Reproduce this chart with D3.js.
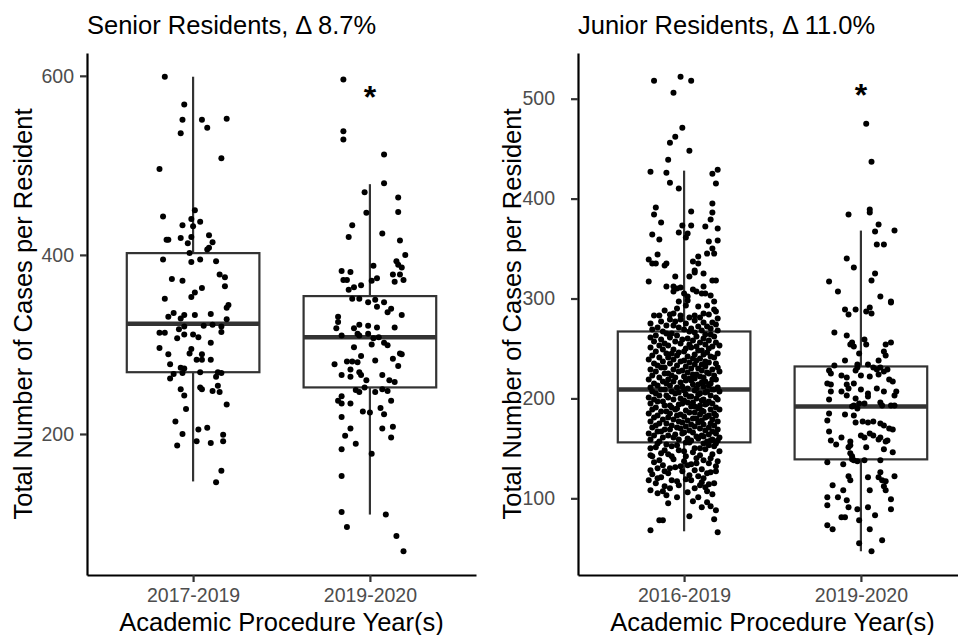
<!DOCTYPE html>
<html>
<head>
<meta charset="utf-8">
<script src="https://cdn.jsdelivr.net/npm/d3@7"></script>
<style>
    body { margin: 0; background: #fff; }
    svg text { font-family: "Liberation Sans", Arial, Helvetica, sans-serif; }
</style>
</head>
<body>
<svg id="chart" width="958" height="635"></svg>
<script>
(function () {
    'use strict';

    // ---- data -------------------------------------------------------------
    var seniorTitle = 'Senior Residents, \u0394 8.7%';
    var juniorTitle = 'Junior Residents, \u0394 11.0%';
    var yTitle = 'Total Number of Cases per Resident';
    var xTitle = 'Academic Procedure Year(s)';

    var seniorCats = ['2017-2019', '2019-2020'];
    var juniorCats = ['2016-2019', '2019-2020'];
    var seniorTicks = [200, 400, 600];
    var juniorTicks = [100, 200, 300, 400, 500];

    // [lower whisker, q1, median, q3, upper whisker]
    var seniorBoxes = [[147, 269, 323, 402, 599], [110, 252, 308, 354, 479]];
    var juniorBoxes = [[67, 156, 209, 267, 428], [47, 139, 192, 232, 368]];

    // significance mark over the 2019-2020 group
    var seniorStar = 582;
    var juniorStar = 509;

    // residents: [jitter in 1/100 of a category, cases]
    var senior1 = [[-16,599],[-5,568],[-6,551],[5,551],[19,552],[8,542],[-7,536],[16,508],[-19,496],[-17,443],[1,450],[-1,440],[4,437],[-6,433],[0,432],[-15,417],[-14,417],[-7,419],[-1,420],[9,422],[11,414],[-3,413],[9,408],[8,406],[-2,402],[-17,395],[-1,392],[4,395],[13,393],[15,378],[18,375],[-12,373],[-6,371],[5,363],[1,358],[-1,353],[18,365],[-16,351],[20,344],[19,341],[-11,335],[-14,331],[-5,333],[1,333],[10,334],[19,328],[-7,329],[-19,313],[-16,313],[-8,317],[-5,320],[6,321],[11,322],[16,320],[16,314],[-9,307],[-5,311],[0,311],[3,308],[10,302],[-19,296],[-1,295],[-2,290],[-14,289],[5,289],[2,283],[5,283],[10,283],[-13,278],[-7,274],[-5,273],[-11,267],[-6,268],[4,269],[14,269],[16,268],[-13,262],[13,264],[14,254],[4,252],[5,250],[-7,250],[11,248],[15,247],[-5,243],[19,233],[-4,228],[-10,214],[-6,200],[3,205],[8,207],[17,199],[17,192],[-9,187],[2,192],[10,190],[16,159],[13,146]];

    var senior2 = [[-15,596],[-15,538],[-15,529],[8,512],[8,480],[-3,470],[16,464],[-2,447],[16,448],[-10,433],[-12,420],[7,424],[17,416],[20,400],[15,393],[16,389],[18,386],[2,388],[-16,382],[-11,381],[-15,372],[-13,372],[1,371],[4,374],[13,378],[17,378],[14,370],[19,372],[-5,366],[-12,361],[-9,364],[-10,351],[-6,351],[-1,347],[3,350],[8,347],[4,342],[12,340],[10,336],[18,333],[-18,331],[-18,325],[-19,318],[-9,318],[-6,322],[-1,321],[4,319],[14,319],[-16,310],[-7,312],[-6,310],[-1,312],[2,307],[5,308],[1,300],[8,302],[10,299],[-9,297],[17,290],[18,289],[-20,278],[-13,281],[-10,281],[-7,280],[-5,287],[3,282],[13,284],[16,276],[-11,272],[-6,269],[-16,266],[-11,264],[-5,266],[-2,260],[7,266],[11,260],[14,258],[-8,249],[-6,247],[-3,252],[3,247],[7,250],[10,248],[-16,242],[-18,237],[-16,234],[-11,234],[12,237],[6,229],[-4,225],[0,224],[-16,219],[8,222],[-11,206],[7,206],[13,208],[-14,198],[12,196],[-8,189],[-16,183],[1,178],[-16,153],[-16,113],[9,110],[-13,96],[15,86],[19,69]];

    // 2016-2019 cloud: upper tail, lower tail, and the dense middle
    var junior1Upper = [[-17,518],[-2,522],[4,518],[-6,506],[-1,471],[-5,462],[-8,456],[3,448],[-19,427],[-9,439],[-10,426],[-8,416],[-3,410],[16,425],[19,429],[18,415],[16,395],[16,386],[4,387],[-16,391],[-17,384],[-13,376],[15,379],[19,370],[12,372],[-1,373],[4,373],[-3,366],[2,365],[1,361],[-18,364],[-14,359],[19,358],[14,357],[16,350],[17,345],[13,345],[-15,344],[-20,339],[-18,335],[-16,335],[-11,333],[-10,335],[8,342],[5,337],[8,335],[6,328],[6,326],[11,325],[3,322],[-5,322],[-20,317],[16,318],[18,318],[-10,312],[-6,312],[-4,310],[-2,311],[11,312],[5,309],[7,307],[10,305],[12,305],[15,303],[0,305],[-6,307],[2,302],[-3,297],[2,298],[-11,288],[-8,284],[-6,285],[-14,283],[-4,290],[1,293],[8,292],[13,293],[17,297],[17,289],[18,287],[11,285],[6,283],[-2,283]];

    var junior1Lower = [[-19,68],[19,66],[-14,78],[-12,78],[3,82],[17,79],[18,88],[15,92],[10,91],[13,96],[-9,95],[5,97],[8,101],[-4,101],[-19,108],[-12,107],[-8,110],[13,107],[9,113],[17,115],[-20,118],[-15,120],[-4,117],[4,118],[18,127],[13,125],[-11,127],[-19,128],[-8,130],[-2,132],[2,133],[7,135],[19,137],[15,140],[-14,138],[-18,142],[-7,142],[9,143],[0,147],[-19,150],[-11,148],[6,150],[17,152],[-4,153],[-15,155],[11,155],[19,158],
        [-10,154],[3,156],[14,153],[-16,151],[-7,152],[9,150],[-3,148],[12,149],[20,147],[-13,145],[5,146],[16,144],[-19,143],[-9,144],[1,142],[-6,139],[7,140],[11,138],[-17,136],[0,137],[14,135],[-12,133],[4,134],[18,132],[-15,130],[-5,131],[10,129],[-1,127],[6,128],[15,126],[-18,124],[-9,125],[3,123],[-13,121],[8,122],[11,120],[-7,118],[1,119],[-16,115],[10,116],[14,114],[-11,112],[-3,113],[6,110],[12,111],[-15,105],[2,106],[-10,103],[16,104]];

    var junior1Middle = [[-17,283],[3,281],[14,284],[-8,279],[9,281],[19,280],[-13,277],[-2,279],[6,278],[16,276],[-19,275],[-5,277],[11,276],[-10,273],[1,275],[13,272],[18,274],[-15,271],[-6,273],[4,270],[8,272],[-18,269],[-3,271],[10,268],[15,270],[-12,267],[0,269],[6,266],[19,268],[-7,265],[3,267],[12,264],[-16,263],[-10,265],[7,262],[15,264],[-19,261],[-4,263],[2,260],[17,262],[-13,259],[-8,261],[5,258],[11,260],[-17,257],[-1,259],[9,256],[14,258],[-11,255],[-5,257],[3,254],[18,256],[20,253],[-14,253],[-2,255],[7,252],[12,254],[-19,251],[-9,253],[1,250],[16,252],[-6,249],[4,251],[10,248],[14,250],[-16,247],[-12,249],[-3,246],[8,248],[19,245],[-10,245],[0,247],[6,244],[13,246],[-18,243],[-7,245],[2,242],[11,244],[17,241],[-14,241],[-4,243],[5,240],[15,242],[-20,239],[-9,241],[0,238],[9,240],[12,237],[-12,237],[-6,239],[3,236],[7,238],[18,235],[-17,235],[-2,237],[10,234],[14,236],[-15,233],[-8,235],[1,232],[6,234],[19,231],[-11,231],[-4,233],[4,230],[12,232],[16,229],[-19,229],[-13,231],[-1,228],[8,230],[-16,227],[-6,229],[2,226],[10,228],[14,225],[20,227],[-9,225],[-3,227],[5,224],[13,226],[17,223],[-18,223],[-11,225],[0,222],[7,224],[11,221],[-14,221],[-7,223],[3,220],[9,222],[16,219],[-20,219],[-5,221],[1,218],[6,220],[12,217],[18,219],[-12,217],[-9,219],[-2,216],[4,218],[15,215],[-17,215],[-6,217],[8,214],[10,216],[14,213],[-15,213],[-10,215],[-1,212],[5,214],[19,211],[-19,211],[-8,213],[2,210],[11,212],[17,209],[-13,209],[-4,211],[0,208],[7,210],[13,207],[16,209],[-18,207],[-11,209],[-3,206],[6,208],[9,205],[20,207],[-16,205],[-7,207],[1,204],[12,206],[15,203],[-10,203],[-5,205],[4,202],[8,204],[18,201],[-20,201],[-14,203],[-2,200],[3,202],[11,199],[-17,199],[-9,201],[0,198],[7,200],[14,197],[19,199],[-12,197],[-6,199],[5,196],[10,198],[16,195],[-19,195],[-15,197],[-3,194],[2,196],[9,193],[13,195],[-8,193],[-1,195],[6,192],[12,194],[18,191],[-16,191],[-11,193],[-4,190],[4,192],[15,189],[-18,189],[-7,191],[1,188],[8,190],[11,187],[20,189],[-13,187],[-5,189],[3,186],[10,188],[17,185],[-20,185],[-10,187],[-2,184],[6,186],[14,183],[-15,183],[-8,185],[0,182],[9,184],[12,181],[18,183],[-17,181],[-4,183],[5,180],[13,182],[16,179],[-12,179],[-9,181],[2,178],[7,180],[19,177],[-19,177],[-6,179],[-1,176],[10,178],[15,175],[-14,175],[-3,177],[4,174],[8,176],[17,173],[-16,173],[-10,175],[1,172],[11,174],[14,171],[-18,171],[-7,173],[-2,170],[6,172],[19,169],[-11,169],[-4,171],[3,168],[9,170],[16,167],[-15,167],[-8,169],[0,166],[12,168],[18,165],[-20,165],[-13,167],[-5,164],[5,166],[10,163],[-17,163],[-1,165],[7,162],[14,164],[20,161],[-12,161],[-9,163],[2,160],[11,162],[16,159],[-19,159],[-6,161],[4,158],[8,160],[13,157],[-14,157],[-3,159],[1,156],[15,158],[18,155]];

    var junior2 = [[3,475],[6,437],[5,389],[5,386],[-7,384],[10,374],[8,367],[19,368],[9,354],[13,354],[-8,340],[-4,331],[8,325],[6,318],[-18,317],[-13,307],[11,302],[17,297],[17,296],[-9,289],[-7,284],[-3,289],[3,287],[5,291],[6,285],[-15,266],[-8,263],[-6,254],[-5,256],[-4,252],[2,259],[3,254],[14,254],[17,256],[13,247],[14,243],[-9,238],[-2,234],[-1,245],[4,234],[10,238],[-15,233],[-18,228],[-17,225],[-3,228],[-2,231],[7,231],[9,229],[11,231],[13,227],[15,229],[-11,223],[-8,221],[0,223],[5,222],[10,224],[16,219],[18,217],[-19,215],[-17,214],[-8,214],[-7,210],[-4,215],[-17,207],[-11,207],[-8,203],[0,209],[4,205],[9,210],[13,207],[19,203],[20,207],[-18,199],[-3,200],[4,202],[-1,195],[2,195],[11,196],[12,193],[17,193],[19,193],[-5,192],[-4,193],[-2,190],[-18,185],[-19,178],[-9,184],[-4,183],[4,176],[7,177],[11,175],[13,173],[16,170],[18,169],[-3,176],[1,177],[-18,167],[-11,161],[0,163],[2,161],[5,165],[7,163],[10,159],[11,161],[14,157],[15,158],[-17,158],[-14,154],[-6,157],[-6,153],[-7,151],[3,151],[13,149],[18,146],[-6,145],[-5,142],[-5,139],[-4,138],[-2,137],[2,138],[-19,136],[-10,134],[11,138],[-7,122],[-6,118],[4,121],[10,121],[12,118],[14,117],[19,122],[11,126],[-16,113],[13,112],[14,108],[-10,108],[5,108],[-19,101],[-13,101],[-8,98],[17,99],[-19,93],[-7,91],[-2,89],[4,91],[17,89],[-11,81],[-9,81],[8,83],[-1,78],[-19,73],[-16,69],[5,69],[12,58],[-1,55],[6,47]];

    // ---- layout -----------------------------------------------------------
    var svg = d3.select('#chart');
    var top = 53, bottom = 575, panelWidth = 389;

    svg.append('rect').attr('width', 958).attr('height', 635).attr('fill', '#fff');

    drawPanel({
        left: 87, title: seniorTitle, cats: seniorCats, ticks: seniorTicks,
        boxes: seniorBoxes, groups: [senior1, senior2], star: seniorStar,
        labelPad: 6, yTitleX: 32
    });

    drawPanel({
        left: 578, title: juniorTitle, cats: juniorCats, ticks: juniorTicks,
        boxes: juniorBoxes, groups: [junior1Upper.concat(junior1Middle, junior1Lower), junior2],
        star: juniorStar, labelPad: 16, yTitleX: 521
    });

    function drawPanel(p) {
        var g = svg.append('g');
        var allValues = d3.merge(p.groups.map(function (grp) {
            return grp.map(function (d) { return d[1]; });
        }));
        var lo = d3.min(allValues), hi = d3.max(allValues);
        var pad = (hi - lo) * 0.05;

        var x = d3.scaleLinear().domain([0.4, 2.6]).range([p.left, p.left + panelWidth]);
        var y = d3.scaleLinear().domain([lo - pad, hi + pad]).range([bottom, top]);

        // boxes
        var halfW = 0.375;
        p.boxes.forEach(function (b, i) {
            var c = i + 1;
            var bg = g.append('g').attr('stroke', '#333333').attr('fill', 'none');
            bg.append('line').attr('x1', x(c)).attr('x2', x(c))
                .attr('y1', y(b[4])).attr('y2', y(b[3])).attr('stroke-width', 2.2);
            bg.append('line').attr('x1', x(c)).attr('x2', x(c))
                .attr('y1', y(b[1])).attr('y2', y(b[0])).attr('stroke-width', 2.2);
            bg.append('rect')
                .attr('x', x(c - halfW)).attr('width', x(c + halfW) - x(c - halfW))
                .attr('y', y(b[3])).attr('height', y(b[1]) - y(b[3]))
                .attr('fill', '#fff').attr('stroke-width', 2.2);
            bg.append('line').attr('x1', x(c - halfW)).attr('x2', x(c + halfW))
                .attr('y1', y(b[2])).attr('y2', y(b[2])).attr('stroke-width', 4.5);
        });

        // jittered points
        p.groups.forEach(function (grp, i) {
            g.append('g').selectAll('circle')
                .data(grp)
                .enter().append('circle')
                .attr('cx', function (d) { return x(i + 1 + d[0] / 100); })
                .attr('cy', function (d) { return y(d[1]); })
                .attr('r', 3)
                .attr('fill', '#000');
        });

        // significance asterisk
        g.append('text')
            .attr('x', x(2))
            .attr('y', y(p.star) + 16)
            .attr('text-anchor', 'middle')
            .attr('font-size', 32)
            .attr('font-weight', 'bold')
            .text('*');

        // axes
        var yAxis = g.append('g')
            .attr('transform', 'translate(' + p.left + ',0)')
            .call(d3.axisLeft(y).tickValues(p.ticks).tickSize(7).tickSizeOuter(0).tickPadding(p.labelPad));
        var xAxis = g.append('g')
            .attr('transform', 'translate(0,' + bottom + ')')
            .call(d3.axisBottom(x).tickValues([1, 2]).tickSize(7).tickSizeOuter(0).tickPadding(6)
                .tickFormat(function (d) { return p.cats[d - 1]; }));

        [yAxis, xAxis].forEach(function (ax) {
            ax.select('.domain').attr('stroke', '#000').attr('stroke-width', 2.2);
            ax.selectAll('.tick line').attr('stroke', '#333333').attr('stroke-width', 2.2);
            ax.selectAll('.tick text')
                .attr('fill', '#4d4d4d')
                .attr('font-size', 19.5)
                .attr('font-family', '"Liberation Sans", Arial, Helvetica, sans-serif');
        });

        // titles
        g.append('text')
            .attr('x', p.left)
            .attr('y', 34)
            .attr('font-size', 25.5)
            .text(p.title);

        g.append('text')
            .attr('x', p.left + panelWidth / 2)
            .attr('y', 631)
            .attr('text-anchor', 'middle')
            .attr('font-size', 25.5)
            .text(xTitle);

        g.append('text')
            .attr('transform', 'translate(' + p.yTitleX + ',' + ((top + bottom) / 2) + ') rotate(-90)')
            .attr('text-anchor', 'middle')
            .attr('font-size', 25.5)
            .text(yTitle);
    }
})();
</script>
</body>
</html>
